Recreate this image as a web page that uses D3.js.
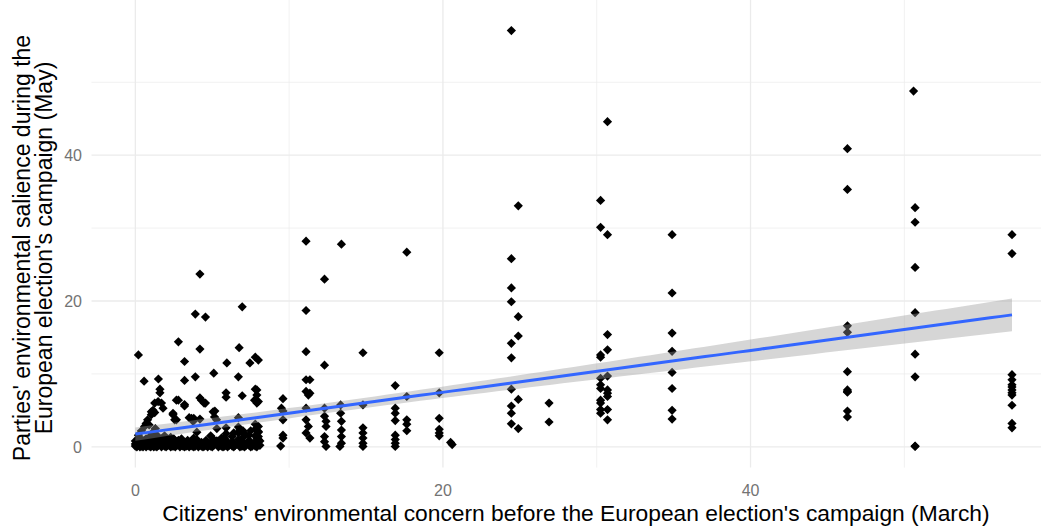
<!DOCTYPE html>
<meta charset="utf-8">
<title>Environmental concern vs salience</title>
<style>
body { margin: 0; background: #fff; }
svg { display: block; }
.grid line { stroke: #ebebeb; }
.tick-label { font: 16px "Liberation Sans", Arial, sans-serif; fill: #737373; }
.axis-title { font: 23px "Liberation Sans", Arial, sans-serif; fill: #000; }
.axis-title.x { font-size: 22.8px; }
</style>
<svg width="1041" height="527"></svg>
<script src="https://cdn.jsdelivr.net/npm/d3@7"></script>
<script>

// citizens' concern (March) -> parties' salience (May), grouped by column of points
var concernMarch = [
  // low cluster 0-8
  0.0,0.0,0.0, 0.2,0.2,0.2, 0.4,0.4,0.4, 0.6,0.6,0.6, 0.9,0.9,0.9,0.9, 1.1,1.1,1.1,
  1.3,1.3,1.3,1.3, 1.6,1.6, 1.9,1.9,1.9, 2.2,2.2, 2.5,2.5,2.5, 2.8,2.8, 3.1,3.1,
  3.4,3.4, 3.7,3.7, 4.0,4.0,4.0, 4.3,4.3, 4.6,4.6, 4.9,4.9,4.9, 5.3,5.3,5.3,
  5.6,5.6,5.6, 5.9,5.9,5.9,5.9, 6.3,6.3,6.3, 6.7,6.7,6.7,6.7, 7.0,7.0,7.0,7.0,
  7.4,7.4,7.4, 7.8,7.8,7.8,7.8,7.8, 8.0,8.0,8.0,
  // upper points 0-10
  0.2,0.57,1.5,1.6,1.6,1.7,1.8,1.15,1.04,0.8,2.8,3.2,3.2,2.8,3.2,2.45,2.56,3.9,4.56,4.2,
  3.9,4.2,4.3,4.56,3.5,3.8,4.2,5.1,5.17,5.15,5.95,5.9,5.9,6.7,6.75,6.95,6.95,6.7,7.8,7.45,
  7.8,8.0,7.75,7.9,9.6,9.5,9.6,9.6,9.6,9.45,9.6,4.2,1.26,1.48,1.04,1.26,0.7,2.67,3.2,2.45,
  2.67,3.65,3.76,4.47,5.06,5.28,7.9,7.9,8.0,8.0,8.0,8.0,8.0,
  // 10-21
  11.1,11.1,11.35,11.1,11.25,11.35,11.1,11.1,11.25,11.1,11.35,12.3,12.3,12.3,12.4,12.4,12.3,12.3,12.4,
  13.35,13.35,13.4,13.4,13.4,13.4,13.3,14.8,14.8,14.8,14.8,14.8,14.8,14.8,11.1,13.4,12.3,17.65,11.1,
  19.76,16.9,16.9,16.9,16.9,16.9,16.9,16.9,16.9,17.65,17.65,17.65,17.65,19.76,19.76,19.76,19.76,20.5,20.6,19.76,
  // 24-31
  24.45,30.7,24.9,30.25,30.25,30.7,24.45,24.45,24.45,24.9,24.9,24.45,24.45,24.45,24.9,24.45,24.45,24.45,24.9,
  26.9,26.9,30.7,30.7,30.25,30.25,30.25,30.25,30.25,30.7,30.7,30.7,30.7,30.25,30.25,30.25,30.7,30.7,30.25,
  // 35
  34.9,34.9,34.9,34.9,34.9,34.9,34.9,34.9,
  // 46
  46.3,46.3,46.3,46.3,46.3,46.3,46.3,46.3,46.3,46.3,
  // 50
  50.6,50.7,50.7,50.7,50.7,50.7,50.7,50.7,50.7,
  // 57
  57,57,57,57,57,57,57,57,57,57,57,57
];

var salienceMay = [
  0.1,0.4,0.8, 0.2,1.0,1.6, 0.1,0.5,2.2, 0.3,0.9,2.8, 0.1,0.6,1.3,3.0, 0.2,0.8,1.9,
  0.1,0.5,1.2,2.5, 0.3,0.9, 0.1,0.6,1.5, 0.2,0.8, 0.1,0.5,1.1, 0.3,0.9, 0.1,0.6,
  0.2,0.9, 0.1,0.5, 0.3,1.0,2.0, 0.1,0.6, 0.2,0.9, 0.1,0.5,1.5, 0.3,0.8,2.5,
  0.1,0.6,1.2, 0.2,0.9,1.8,2.6, 0.1,0.7,1.4, 0.3,1.0,1.9,2.7, 0.1,0.6,1.3,2.2,
  0.2,0.9,1.6, 0.1,0.7,1.5,2.4,3.1, 0.3,1.0,2.0,
  12.6,9.0,9.3,7.9,7.4,6.0,5.3,5.0,4.4,3.7,14.4,11.7,9.1,6.4,5.6,4.4,3.7,18.2,17.8,13.4,
  9.6,6.7,6.4,6.0,4.0,3.9,3.8,10.1,4.9,4.1,11.5,7.4,6.8,9.6,13.6,19.2,7.0,4.0,7.9,11.5,
  12.3,11.9,6.4,6.0,6.6,5.3,4.9,1.6,1.2,0.1,3.7,23.7,6.0,6.2,4.8,4.7,3.2,6.4,5.8,4.6,
  3.7,3.9,3.5,6.0,4.8,3.7,7.8,7.1,6.2,2.8,2.1,1.4,0.7,
  13.05,9.2,9.2,7.6,7.1,7.35,5.3,3.7,2.8,1.9,1.2,11.2,5.3,4.2,3.5,2.8,1.4,0.7,0.05,
  5.75,4.6,3.5,2.3,1.4,0.5,0.05,12.9,5.75,2.6,1.9,1.2,0.5,0.05,28.2,27.8,23.0,26.7,18.7,
  12.9,8.4,5.3,4.6,3.6,1.6,1.0,0.5,0.05,6.9,3.7,3.1,2.2,3.9,2.4,1.9,1.5,0.6,0.3,7.4,
  57.1,44.6,33.05,33.8,30.1,29.1,25.8,21.8,19.9,17.85,15.2,14.2,12.2,7.9,6.5,5.6,4.6,3.15,2.5,
  6.0,3.4,15.4,13.3,12.6,12.3,9.4,8.5,8.0,9.7,7.8,7.35,6.9,6.4,5.1,4.6,5.1,3.7,6.0,
  29.1,21.1,15.6,13.1,10.2,8.0,5.0,3.8,
  40.9,35.3,16.6,15.7,10.3,7.8,7.5,4.9,4.1,7.6,
  48.8,32.8,30.8,24.6,18.4,12.7,9.6,0.05,0.1,
  29.1,26.5,9.9,9.2,8.2,7.8,7.1,5.7,3.2,2.6,8.5,7.4
];

// the solid band of near-zero parties at low concern
var lowClusterX = [
  0.1,0.1, 0.3,0.3,0.3, 0.5,0.5,0.5, 0.7,0.7,0.7, 0.8,0.8, 1.0,1.0,1.0, 1.2,1.2,1.2,
  1.4,1.4,1.4, 1.5, 1.7,1.7,1.7, 1.8, 2.0,2.0,2.0, 2.1, 2.3,2.3,2.3, 2.4, 2.6,2.6,2.6,
  2.7, 2.9,2.9, 3.0,3.0, 3.2,3.2, 3.3, 3.5,3.5, 3.6, 3.8,3.8,3.8, 3.9, 4.1,4.1, 4.2,
  4.4,4.4, 4.5, 4.7,4.7, 4.8, 5.0,5.0, 5.1,5.1, 5.4,5.4, 5.5, 5.7,5.7, 5.8,5.8,
  6.0,6.0, 6.1, 6.4,6.4,6.4, 6.5, 6.8,6.8,6.8, 6.9, 7.1,7.1,7.1, 7.2, 7.5,7.5,7.5,
  7.6, 7.9,7.9,7.9, 8.1,8.1
];
var lowClusterY = [
  0.0,0.3, 0.0,0.6,1.2, 0.0,0.3,0.8, 0.0,0.4,1.1, 0.2,0.7, 0.0,0.3,1.0, 0.0,0.4,0.9,
  0.0,0.6,1.6, 0.2, 0.0,0.5,1.1, 0.3, 0.0,0.4,1.0, 0.2, 0.0,0.5,1.3, 0.1, 0.0,0.3,0.8,
  0.2, 0.0,0.5, 0.2,1.1, 0.0,0.4, 0.1, 0.0,0.6, 0.2, 0.0,0.4,1.2, 0.1, 0.0,0.5, 0.2,
  0.0,0.4, 0.1, 0.0,0.5, 0.2, 0.0,0.4, 0.2,1.0, 0.0,0.5, 0.2, 0.0,0.4, 0.1,1.2,
  0.0,0.5, 0.2, 0.0,0.4,1.9, 0.2, 0.0,0.5,2.3, 0.1, 0.0,0.4,1.8, 0.2, 0.0,0.5,2.2,
  0.1, 0.0,0.4,1.2, 0.2,0.8
];

var xTicks = [0, 20, 40],
    yTicks = [0, 20, 40],
    xMinor = [10, 30, 50],
    yMinor = [10, 30, 50];

var xTitle = "Citizens' environmental concern before the European election's campaign (March)",
    yTitle = ["Parties' environmental salience during the", "European election's campaign (May)"];

var allX = concernMarch.concat(lowClusterX),
    allY = salienceMay.concat(lowClusterY);
var points = allX.map(function(x, i) { return {x: x, y: allY[i]}; });

var svg = d3.select("svg");

var xExt = d3.extent(points, function(d) { return d.x; }),
    yExt = d3.extent(points, function(d) { return d.y; }),
    xPad = (xExt[1] - xExt[0]) * 0.05,
    yPad = (yExt[1] - yExt[0]) * 0.05;

var x = d3.scaleLinear()
    .domain([xExt[0] - xPad, xExt[1] + xPad])
    .range([91.5, 91.5 + (xExt[1] - xExt[0] + 2 * xPad) * 15.38]);

var y = d3.scaleLinear()
    .domain([yExt[0] - yPad, yExt[1] + yPad])
    .range([446.8 + yPad * 7.29, 446.8 - (yExt[1] + yPad) * 7.29]);

var left = x.range()[0], right = x.range()[1],
    top = y.range()[1], bottom = y.range()[0];

// grid
var grid = svg.append("g").attr("class", "grid");
grid.selectAll(".vmin").data(xMinor).enter().append("line")
    .attr("x1", x).attr("x2", x).attr("y1", top).attr("y2", bottom).attr("stroke-width", 0.7);
grid.selectAll(".hmin").data(yMinor).enter().append("line")
    .attr("y1", y).attr("y2", y).attr("x1", left).attr("x2", right).attr("stroke-width", 0.7);
grid.selectAll(".vmaj").data(xTicks).enter().append("line")
    .attr("x1", x).attr("x2", x).attr("y1", top).attr("y2", bottom).attr("stroke-width", 1.3);
grid.selectAll(".hmaj").data(yTicks).enter().append("line")
    .attr("y1", y).attr("y2", y).attr("x1", left).attr("x2", right).attr("stroke-width", 1.3);

// points
svg.append("g").selectAll("path").data(points).enter().append("path")
    .attr("d", "M0,-4.6L4.6,0L0,4.6L-4.6,0Z")
    .attr("fill", "#000")
    .attr("transform", function(d) { return "translate(" + x(d.x) + "," + y(d.y) + ")"; });

// linear fit with 95% band
var n = points.length,
    mx = d3.mean(points, function(d) { return d.x; }),
    my = d3.mean(points, function(d) { return d.y; }),
    sxx = d3.sum(points, function(d) { return (d.x - mx) * (d.x - mx); }),
    sxy = d3.sum(points, function(d) { return (d.x - mx) * (d.y - my); }),
    slope = sxy / sxx,
    icept = my - slope * mx,
    sse = d3.sum(points, function(d) { var r = d.y - icept - slope * d.x; return r * r; }),
    s = Math.sqrt(sse / (n - 2)),
    tval = 1.967;

var fit = d3.range(0, 81).map(function(i) {
  var xv = xExt[0] + (xExt[1] - xExt[0]) * i / 80,
      yv = icept + slope * xv,
      se = s * Math.sqrt(1 / n + (xv - mx) * (xv - mx) / sxx);
  return {x: xv, y: yv, lo: yv - tval * se, hi: yv + tval * se};
});

svg.append("path").datum(fit)
    .attr("fill", "#999").attr("fill-opacity", 0.4)
    .attr("d", d3.area().x(function(d) { return x(d.x); })
      .y0(function(d) { return y(d.lo); }).y1(function(d) { return y(d.hi); }));

svg.append("path").datum(fit)
    .attr("fill", "none").attr("stroke", "#3366FF").attr("stroke-width", 3)
    .attr("d", d3.line().x(function(d) { return x(d.x); }).y(function(d) { return y(d.y); }));

// tick labels
svg.selectAll(".xl").data(xTicks).enter().append("text")
    .attr("class", "tick-label").attr("x", x).attr("y", 496)
    .attr("text-anchor", "middle").text(function(d) { return d; });
svg.selectAll(".yl").data(yTicks).enter().append("text")
    .attr("class", "tick-label").attr("x", 82).attr("y", function(d) { return y(d) + 6; })
    .attr("text-anchor", "end").text(function(d) { return d; });

// axis titles
svg.append("text").attr("class", "axis-title x")
    .attr("x", 576).attr("y", 521).attr("text-anchor", "middle").text(xTitle);

svg.append("g").attr("transform", "translate(0,248) rotate(-90)")
  .selectAll("text").data(yTitle).enter().append("text")
    .attr("class", "axis-title").attr("text-anchor", "middle")
    .attr("x", 0).attr("y", function(d, i) { return 30 + i * 22; })
    .text(function(d) { return d; });

</script>
